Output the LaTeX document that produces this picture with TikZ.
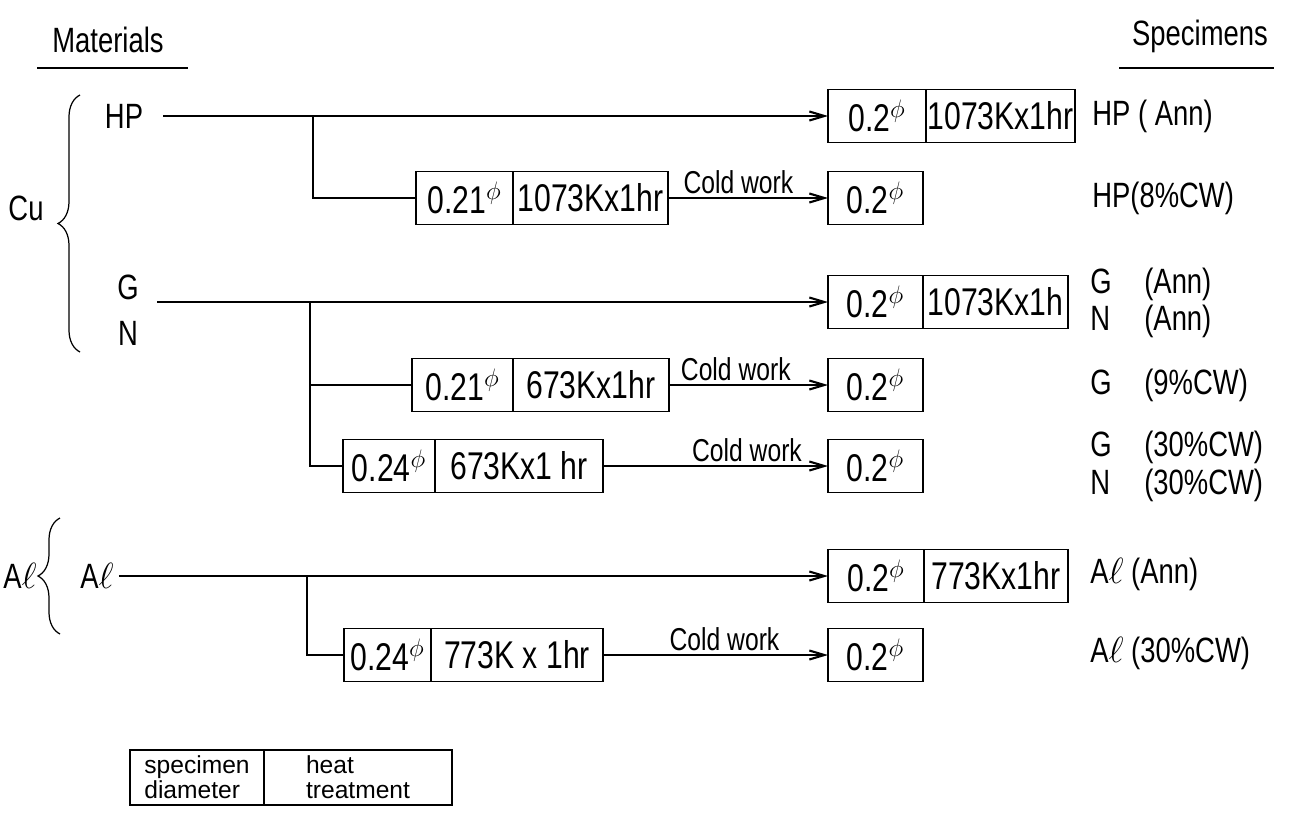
\documentclass[tikz,border=0pt]{standalone}
\usepackage{fontspec}
\setmainfont{Liberation Sans}[FakeStretch=0.78]
\newfontfamily\keyfont{Liberation Sans}

\usetikzlibrary{arrows.meta, positioning, decorations.pathreplacing}

\newcommand{\phid}[1]{#1$^{\phi}$}

\begin{document}
\begin{tikzpicture}[x=0.2mm, y=-0.2mm,
    >={Straight Barb[length=3mm, width=1.8mm]},
    lbl/.style={font=\fontsize{20}{22}\selectfont, inner sep=0pt},
    cw/.style={font=\fontsize{18}{20}\selectfont, inner sep=2pt, above},
    cell/.style={draw, line width=0.9pt, minimum height=10.6mm, inner sep=0pt, outer sep=0pt, font=\fontsize{22}{24}\selectfont},
    key/.style={draw, line width=0.9pt, minimum height=11mm, inner sep=0pt, outer sep=0pt, align=left, font=\keyfont\fontsize{14}{14}\selectfont},
    line/.style={line width=1.2pt},
    curly/.style={decorate, decoration={brace, amplitude=4.4mm}, line width=0.7pt},
]
    \useasboundingbox (0,0) rectangle (1297,815);

    % Headings
    \node[lbl] (mat) at (108,40) {Materials};
    \draw[line] (mat.south west) ++(-3mm,-3mm) coordinate (matl) -- ++(30.2mm,0);
    \node[lbl] (spec) at (1200,36) {Specimens};
    \draw[line] (spec.south west) ++(-2.5mm,-3mm) coordinate (specl) -- ++(31mm,0);

    % Cu
    \node[lbl] (cu) at (26,208) {Cu};
    \draw[curly] (80,352) -- (80,95);
    \node[lbl] (hp) at (124,116) {HP};
    \node[lbl] (g) at (128,287) {G};
    \node[lbl] (n) at (128,333) {N};

    % Al
    \node[lbl] (al) at (20,576) {A$\ell$};
    \draw[curly] (60,634) -- (60,518);
    \node[lbl] (alm) at (97,576) {A$\ell$};

    % HP annealed
    \node[cell, minimum width=19.6mm, anchor=west] (hpa) at (828,116) {\phid{0.2}};
    \node[cell, minimum width=29.8mm, right=0pt of hpa] (hpah) {1073Kx1hr};
    % HP cold worked
    \node[cell, minimum width=19.4mm, anchor=west] (hpb) at (416,198) {\phid{0.21}};
    \node[cell, minimum width=31mm, right=0pt of hpb] (hpbh) {1073Kx1hr};
    \node[cell, minimum width=19mm, anchor=west] (hpc) at (828,198) {\phid{0.2}};

    % G, N annealed
    \node[cell, minimum width=19mm, anchor=west] (gna) at (828,302) {\phid{0.2}};
    \node[cell, minimum width=29mm, right=0pt of gna] (gnah) {1073Kx1h};
    % G 9%
    \node[cell, minimum width=20.2mm, anchor=west] (g9b) at (412,385) {\phid{0.21}};
    \node[cell, minimum width=31.2mm, right=0pt of g9b] (g9bh) {673Kx1hr};
    \node[cell, minimum width=19mm, anchor=west] (g9c) at (828,385) {\phid{0.2}};
    % G, N 30%
    \node[cell, minimum width=18.4mm, anchor=west] (g30b) at (343,466) {\phid{0.24}};
    \node[cell, minimum width=33.6mm, right=0pt of g30b] (g30bh) {673Kx1 hr};
    \node[cell, minimum width=19mm, anchor=west] (g30c) at (828,466) {\phid{0.2}};

    % Al annealed
    \node[cell, minimum width=19.2mm, anchor=west] (ala) at (828,576) {\phid{0.2}};
    \node[cell, minimum width=28.8mm, right=0pt of ala] (alah) {773Kx1hr};
    % Al 30%
    \node[cell, minimum width=17.4mm, anchor=west] (alb) at (344,655) {\phid{0.24}};
    \node[cell, minimum width=34.4mm, right=0pt of alb] (albh) {773K x 1hr};
    \node[cell, minimum width=19mm, anchor=west] (alc) at (828,655) {\phid{0.2}};

    % Connectors
    \coordinate (hpfork) at (313,116);
    \coordinate (gnstart) at (157,302);
    \coordinate (gnfork) at (310,302);
    \coordinate (alfork) at (307,576);
    \draw[line,->] (hp.east) ++(4mm,0) -- (hpa.west);
    \draw[line] (hpfork) |- (hpb.west);
    \draw[line,->] (hpbh.east) -- node[cw, pos=0.44] {Cold work} (hpc.west);
    \draw[line,->] (gnstart) -- (gna.west);
    \draw[line] (gnfork) |- (g9b.west);
    \draw[line] (gnfork) |- (g30b.west);
    \draw[line,->] (g9bh.east) -- node[cw, pos=0.42] {Cold work} (g9c.west);
    \draw[line,->] (g30bh.east) -- node[cw, pos=0.64] {Cold work} (g30c.west);
    \draw[line,->] (alm.east) ++(1mm,0) -- (ala.west);
    \draw[line] (alfork) |- (alb.west);
    \draw[line,->] (albh.east) -- node[cw, pos=0.54] {Cold work} (alc.west);

    % Specimens
    \node[lbl, anchor=west] (s1) at (1092,116) {HP ( Ann)};
    \node[lbl, anchor=west] (s2) at (1092,198) {HP(8\%CW)};
    \node[lbl, anchor=west] (s3) at (1090,284) {\makebox[10.8mm][l]{G}(Ann)};
    \node[lbl, anchor=west] (s4) at (1090,321) {\makebox[10.8mm][l]{N}(Ann)};
    \node[lbl, anchor=west] (s5) at (1090,385) {\makebox[10.8mm][l]{G}(9\%CW)};
    \node[lbl, anchor=west] (s6) at (1090,447) {\makebox[10.8mm][l]{G}(30\%CW)};
    \node[lbl, anchor=west] (s7) at (1090,485) {\makebox[10.8mm][l]{N}(30\%CW)};
    \node[lbl, anchor=west] (s8) at (1090,574) {A$\ell$ (Ann)};
    \node[lbl, anchor=west] (s9) at (1090,653) {A$\ell$ (30\%CW)};

    % Key
    \node[key, minimum width=26.8mm, anchor=north west] (keyd) at (130,750) {specimen\\diameter};
    \node[key, minimum width=37.6mm, right=0pt of keyd] (keyh) {heat\\treatment};
\end{tikzpicture}
\end{document}
